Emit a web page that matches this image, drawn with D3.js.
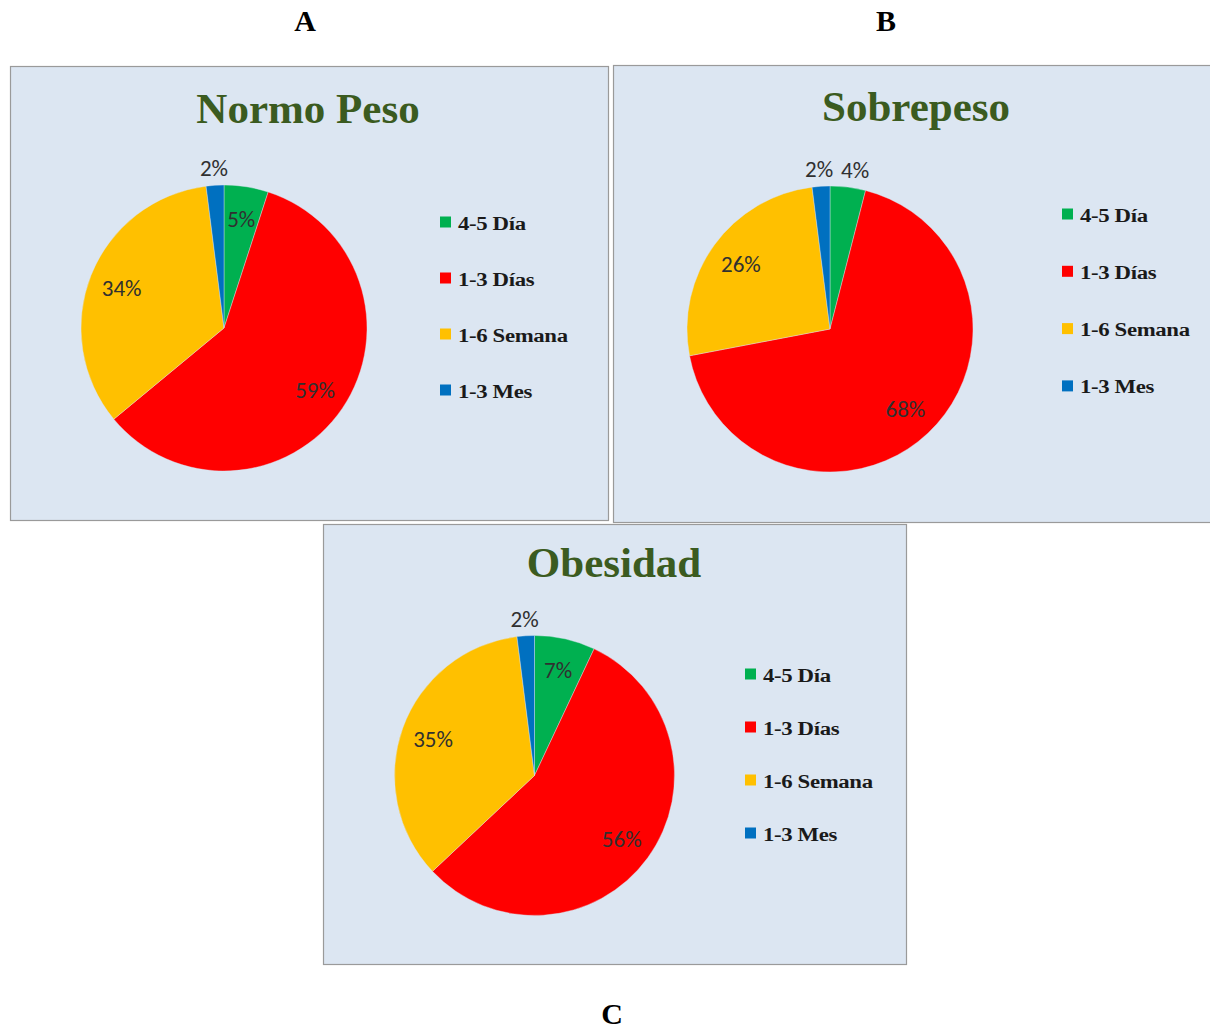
<!DOCTYPE html>
<html>
<head>
<meta charset="utf-8">
<script src="https://cdn.jsdelivr.net/npm/d3@7"></script>
<style>
  html, body { margin: 0; padding: 0; background: #ffffff; }
  svg { display: block; }
</style>
</head>
<body>
<svg id="chart" width="1210" height="1030"></svg>
<script>
// Frequency categories shared by the three pies
const categories = ["4-5 Día", "1-3 Días", "1-6 Semana", "1-3 Mes"];
const sliceColors = ["#00b050", "#ff0000", "#ffc000", "#0070c0"];

// Percentages per group (clockwise from 12 o'clock)
const normoPeso = [5, 59, 34, 2];
const sobrepeso = [4, 68, 26, 2];
const obesidad  = [7, 56, 35, 2];

const panelTitles  = ["Normo Peso", "Sobrepeso", "Obesidad"];
const panelLetters = ["A", "B", "C"];

// Panel layout
const panels = [
  { values: normoPeso, box: [10, 66, 598, 454],  pie: [224, 328, 143], title: [308, 123],
    legend: [440, 222, 56], letter: [305, 31] },
  { values: sobrepeso, box: [613, 65, 610, 457], pie: [830, 329, 143], title: [916, 121],
    legend: [1062, 214, 57.3], letter: [886, 31] },
  { values: obesidad,  box: [323, 524, 583, 440], pie: [534.5, 775.5, 140], title: [614, 577],
    legend: [745, 674, 53], letter: [612, 1024] }
];

const svg = d3.select("#chart");
const color = d3.scaleOrdinal().domain(categories).range(sliceColors);
const pie = d3.pie().sort(null).value(d => d.value);

const serif = "'Liberation Serif', 'Times New Roman', serif";
const labelFont = "Carlito, Lato, 'Liberation Sans', sans-serif";

panels.forEach((p, i) => {
  const g = svg.append("g");
  const [bx, by, bw, bh] = p.box;

  g.append("rect")
    .attr("x", bx + 0.5).attr("y", by + 0.5)
    .attr("width", bw).attr("height", bh)
    .attr("fill", "#dce6f2")
    .attr("stroke", "#9a9a9a")
    .attr("stroke-width", 1.2);

  // Group title
  g.append("text")
    .attr("x", p.title[0]).attr("y", p.title[1])
    .attr("text-anchor", "middle")
    .attr("font-family", serif)
    .attr("font-weight", "bold")
    .attr("font-size", 43)
    .attr("fill", "#3b5b20")
    .text(panelTitles[i]);

  // Pie
  const [cx, cy, r] = p.pie;
  const data = categories.map((c, k) => ({ cat: c, value: p.values[k] }));
  const arcs = pie(data);
  const arc = d3.arc().innerRadius(0).outerRadius(r);
  const pg = g.append("g").attr("transform", `translate(${cx},${cy})`);

  pg.selectAll("path")
    .data(arcs)
    .join("path")
    .attr("d", arc)
    .attr("fill", d => color(d.data.cat))
    .attr("stroke", "#dce6f2")
    .attr("stroke-width", 0.4);

  // Percent labels: inside for larger slices, just outside for the small ones
  const inner = d3.arc().innerRadius(r * 0.77).outerRadius(r * 0.77);
  const outer = d3.arc().innerRadius(r * 1.12).outerRadius(r * 1.12);
  const labelPos = arcs.map(d => (d.data.value >= 5 ? inner : outer).centroid(d));
  // keep neighbouring outside labels from touching
  const outsideIdx = arcs.map((d, k) => k).filter(k => arcs[k].data.value < 5);
  for (let a = 0; a < outsideIdx.length; a++) {
    for (let b = a + 1; b < outsideIdx.length; b++) {
      const pa = labelPos[outsideIdx[a]], pb = labelPos[outsideIdx[b]];
      const gap = Math.abs(pa[0] - pb[0]);
      if (Math.abs(pa[1] - pb[1]) < 20 && gap < 36) {
        const push = (36 - gap) / 2;
        const [left, right] = pa[0] < pb[0] ? [pa, pb] : [pb, pa];
        left[0] -= push * 0.3;
        right[0] += push * 1.7;
      }
    }
  }
  pg.selectAll("text.pct")
    .data(arcs)
    .join("text")
    .attr("class", "pct")
    .attr("transform", (d, k) => `translate(${labelPos[k][0]},${labelPos[k][1]})`)
    .attr("text-anchor", "middle")
    .attr("dy", "0.35em")
    .attr("font-family", labelFont)
    .attr("font-size", 23)
    .attr("fill", "#303030")
    .text(d => d.data.value + "%");

  // Legend
  const [lx, ly, step] = p.legend;
  const lg = g.append("g");
  categories.forEach((c, k) => {
    const y = ly + k * step;
    lg.append("rect")
      .attr("x", lx).attr("y", y - 5.5)
      .attr("width", 11).attr("height", 11)
      .attr("fill", color(c));
    lg.append("text")
      .attr("transform", `translate(${lx + 18},${y + 7.5}) scale(1.2,1)`)
      .attr("font-family", serif)
      .attr("font-weight", "bold")
      .attr("font-size", 19)
      .attr("letter-spacing", -0.3)
      .attr("fill", "#1a1a1a")
      .text(c);
  });

  // Panel letter
  svg.append("text")
    .attr("x", p.letter[0]).attr("y", p.letter[1])
    .attr("text-anchor", "middle")
    .attr("font-family", serif)
    .attr("font-weight", "bold")
    .attr("font-size", 30)
    .attr("fill", "#000000")
    .text(panelLetters[i]);
});
</script>
</body>
</html>
